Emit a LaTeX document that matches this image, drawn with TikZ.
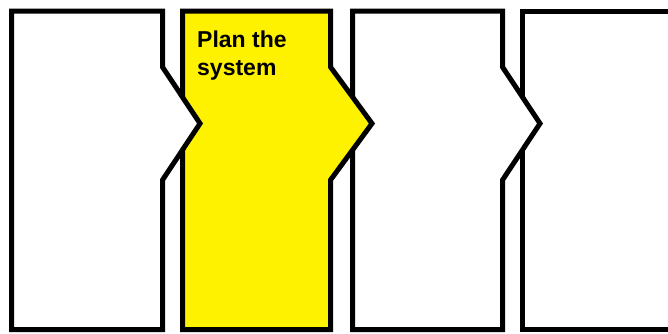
\documentclass[tikz,border=0pt]{standalone}
\usepackage{fontspec}
\setmainfont{Liberation Sans}
\usepackage{tikz}
\usetikzlibrary{positioning, calc}

\begin{document}
\begin{tikzpicture}[
    x=1pt, y=-1pt,
    every node/.style={font=\fontsize{23}{28}\selectfont\bfseries, align=left},
    stage/.style={draw=black, line width=5pt, fill=white, line join=miter},
    current/.style={stage, fill=yellow}
]
    \clip (0,0) rectangle (668,333);
    % Stages, drawn from right to left so each tip lies on top
    \draw[stage] (522.5,11) -- (700,11) -- (700,329.5) -- (522.5,329.5) -- cycle;
    \draw[stage] (352.5,11) -- (502.5,11) -- (502.5,67) -- (540,123.5) -- (502.5,180) -- (502.5,329.5) -- (352.5,329.5) -- cycle;
    \draw[current] (182.5,11) -- (330.5,11) -- (330.5,67) -- (372,123.5) -- (330.5,180) -- (330.5,329.5) -- (182.5,329.5) -- cycle;
    \draw[stage] (11.5,11) -- (162.5,11) -- (162.5,67) -- (200,123.5) -- (162.5,180) -- (162.5,329.5) -- (11.5,329.5) -- cycle;

    % Label
    \node[anchor=north west, inner sep=0pt] (plan) at (197,31) {Plan the\\system};
\end{tikzpicture}
\end{document}
